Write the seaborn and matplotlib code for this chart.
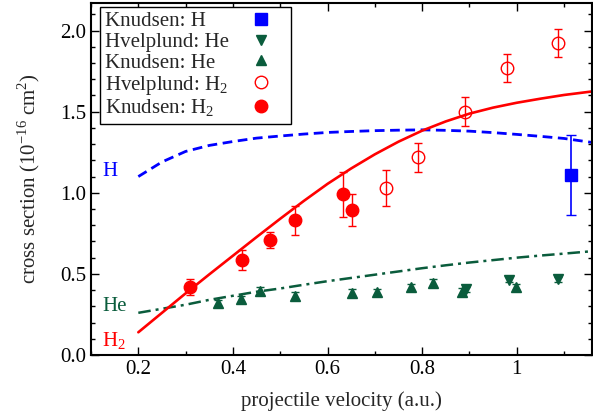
import matplotlib
matplotlib.use('Agg')
import pandas as pd
import matplotlib.pyplot as plt
import seaborn as sns
from matplotlib.ticker import MultipleLocator, FormatStrFormatter

# theory curves
curve_v = [0.20, 0.25, 0.30, 0.35, 0.40, 0.45, 0.50, 0.55, 0.60, 0.65,
           0.70, 0.75, 0.80, 0.85, 0.90, 0.95, 1.00, 1.05, 1.10, 1.16]
h_theory = [1.10, 1.19, 1.255, 1.292, 1.316, 1.337, 1.350, 1.362, 1.372, 1.378,
            1.383, 1.386, 1.388, 1.385, 1.380, 1.371, 1.360, 1.348, 1.335, 1.31]
he_theory = [0.26, 0.285, 0.31, 0.34, 0.365, 0.39, 0.41, 0.433, 0.455, 0.475,
             0.495, 0.515, 0.535, 0.553, 0.57, 0.585, 0.60, 0.613, 0.625, 0.64]
h2_theory = [0.14, 0.26, 0.38, 0.497, 0.612, 0.727, 0.84, 0.95, 1.055, 1.15,
             1.237, 1.315, 1.383, 1.44, 1.488, 1.525, 1.555, 1.58, 1.603, 1.625]

# measurements
knud_h_v = [1.114]
knud_h_y = [1.11]
knud_h_err = [0.245]

hvel_he_v = [0.893, 0.984, 1.088]
hvel_he_y = [0.405, 0.463, 0.467]
hvel_he_err = [0.015, 0.015, 0.015]

knud_he_v = [0.369, 0.418, 0.458, 0.532, 0.651, 0.705, 0.777, 0.822, 0.885, 0.998]
knud_he_y = [0.32, 0.346, 0.397, 0.366, 0.385, 0.387, 0.42, 0.446, 0.39, 0.42]
knud_he_err = [0.02] * 10

hvel_h2_v = [0.724, 0.792, 0.891, 0.979, 1.088]
hvel_h2_y = [1.03, 1.22, 1.50, 1.77, 1.925]
hvel_h2_err = [0.11, 0.09, 0.09, 0.085, 0.085]

knud_h2_v = [0.309, 0.419, 0.479, 0.531, 0.632, 0.651]
knud_h2_y = [0.42, 0.585, 0.71, 0.83, 0.99, 0.895]
knud_h2_err = [0.05, 0.06, 0.05, 0.09, 0.14, 0.10]

BLUE = '#0000ff'
RED = '#ff0000'
GREEN = '#0a5c3c'

sns.set_theme(style='ticks')
plt.rcParams['font.family'] = ['Liberation Serif', 'DejaVu Serif']
plt.rcParams['mathtext.fontset'] = 'custom'
plt.rcParams['mathtext.rm'] = 'Liberation Serif'
plt.rcParams['font.size'] = 15

fig = plt.figure(figsize=(5.93, 4.17), dpi=100)
ax = fig.add_axes([0.1535, 0.1487, 0.8455, 0.8441])

curves = pd.DataFrame({'v': curve_v, 'H': h_theory, 'He': he_theory, 'H2': h2_theory})
sns.lineplot(data=curves, x='v', y='H', ax=ax, color=BLUE, lw=2.0,
             linestyle=(0, (3.5, 2)))
sns.lineplot(data=curves, x='v', y='He', ax=ax, color=GREEN, lw=1.8,
             linestyle=(0, (5, 2, 1.2, 2)))
sns.lineplot(data=curves, x='v', y='H2', ax=ax, color=RED, lw=1.9)

ax.errorbar(knud_h_v, knud_h_y, yerr=knud_h_err, fmt='s', color=BLUE, ms=8.5,
            elinewidth=1.2, capsize=3.5, capthick=1.0, label='Knudsen: H')
ax.errorbar(hvel_he_v, hvel_he_y, yerr=hvel_he_err, fmt='v', color=GREEN, ms=7.5,
            elinewidth=1.0, capsize=3, label='Hvelplund: He')
ax.errorbar(knud_he_v, knud_he_y, yerr=knud_he_err, fmt='^', color=GREEN, ms=7.5,
            elinewidth=1.0, capsize=3, label='Knudsen: He')
ax.errorbar(hvel_h2_v, hvel_h2_y, yerr=hvel_h2_err, fmt='o', color=RED, mfc='none',
            ms=9, mew=1.0, elinewidth=1.0, capsize=3, label='Hvelplund: H$_2$')
ax.errorbar(knud_h2_v, knud_h2_y, yerr=knud_h2_err, fmt='o', color=RED, ms=9,
            elinewidth=1.0, capsize=3, label='Knudsen: H$_2$')

ax.text(0.123, 1.13, 'H', color=BLUE, fontsize=15, ha='left', va='center')
ax.text(0.123, 0.30, 'He', color=GREEN, fontsize=15, ha='left', va='center')
ax.text(0.123, 0.085, 'H$_2$', color=RED, fontsize=15, ha='left', va='center')

ax.set_xlim(0.1, 1.16)
ax.set_ylim(0, 2.17)
ax.xaxis.set_major_locator(MultipleLocator(0.2))
ax.xaxis.set_minor_locator(MultipleLocator(0.1))
ax.yaxis.set_major_locator(MultipleLocator(0.5))
ax.yaxis.set_minor_locator(MultipleLocator(0.1))
ax.xaxis.set_major_formatter(FormatStrFormatter('%g'))
ax.yaxis.set_major_formatter(FormatStrFormatter('%.1f'))
ax.tick_params(which='both', direction='in', top=True, right=True, colors='black',
               labelsize=15, width=1.0)
ax.tick_params(which='major', length=6)
ax.tick_params(which='minor', length=3)
for s in ax.spines.values():
    s.set_linewidth(1.5)
    s.set_color('black')

ax.set_xlabel('projectile velocity (a.u.)', fontsize=15, labelpad=9)
ax.set_ylabel('cross section (10$^{-16}$ cm$^2$)', fontsize=15, labelpad=13)

handles, labels = ax.get_legend_handles_labels()
handles = [h[0] if isinstance(h, tuple) else h for h in handles]
keep = [i for i, l in enumerate(labels) if not l.startswith('_')]
leg = ax.legend([handles[i] for i in keep], [labels[i] for i in keep],
                loc='upper left', bbox_to_anchor=(0.018, 0.99), markerfirst=False,
                fontsize=15, frameon=True, fancybox=False, edgecolor='black',
                framealpha=1, borderpad=0.25, labelspacing=0.05, handlelength=2.4,
                handletextpad=1.2, borderaxespad=0)
leg.get_frame().set_linewidth(1.0)
# left-align the labels, keep the markers in one column on the right
for col in leg._legend_handle_box.get_children():
    col.align = 'left'
    for row in col.get_children():
        row.mode = 'expand'
        row.width = 181

fig.savefig('out.png', dpi=100)
